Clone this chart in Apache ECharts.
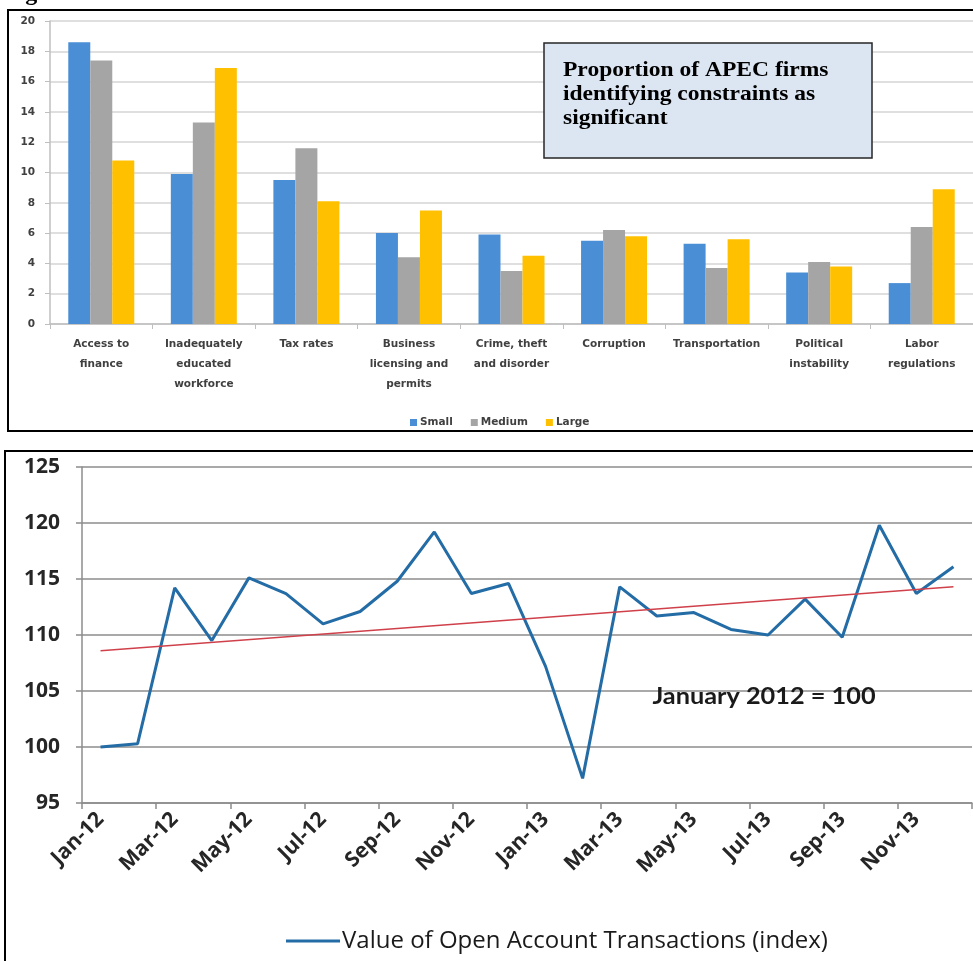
<!DOCTYPE html>
<html><head><meta charset="utf-8">
<script src="https://cdn.jsdelivr.net/npm/echarts@6/dist/echarts.min.js"></script>
<style>html,body{margin:0;padding:0;background:#fff}#c{width:973px;height:961px}</style>
</head><body><div id="c"></div>
<script>
// ---- Top chart data ----
const constraintCategories = ['Access to\nfinance', 'Inadequately\neducated\nworkforce', 'Tax rates', 'Business\nlicensing and\npermits', 'Crime, theft\nand disorder', 'Corruption', 'Transportation', 'Political\ninstability', 'Labor\nregulations'];
const smallFirms  = [18.6, 9.9, 9.5, 6.0, 5.9, 5.5, 5.3, 3.4, 2.7];
const mediumFirms = [17.4, 13.3, 11.6, 4.4, 3.5, 6.2, 3.7, 4.1, 6.4];
const largeFirms  = [10.8, 16.9, 8.1, 7.5, 4.5, 5.8, 5.6, 3.8, 8.9];
const firmSizeNames = ['Small', 'Medium', 'Large'];

// ---- Bottom chart data ----
const months = ['Jan-12','Feb-12','Mar-12','Apr-12','May-12','Jun-12','Jul-12','Aug-12','Sep-12','Oct-12','Nov-12','Dec-12',
                'Jan-13','Feb-13','Mar-13','Apr-13','May-13','Jun-13','Jul-13','Aug-13','Sep-13','Oct-13','Nov-13','Dec-13'];
const openAccountIndex = [100.0, 100.3, 114.2, 109.5, 115.1, 113.7, 111.0, 112.1, 114.8, 119.2, 113.7, 114.6,
                          107.2, 97.2, 114.3, 111.7, 112.0, 110.5, 110.0, 113.2, 109.8, 119.8, 113.7, 116.1];
const trendEnds = [108.6, 114.3]; // linear trend value at first and last month
const lineSeriesName = 'Value of Open Account Transactions (index)';

const chart = echarts.init(document.getElementById('c'), null, {renderer: 'canvas'});
const FT = '"DejaVu Sans", sans-serif';
const FB = '"Open Sans", Lato, sans-serif';

const option = {
  animation: false,
  backgroundColor: '#fff',
  grid: [
    {left: 50, right: 0, top: 21, height: 303},
    {left: 82, right: 1, top: 467, height: 336}
  ],
  xAxis: [
    {
      gridIndex: 0, type: 'category', data: constraintCategories,
      axisLine: {lineStyle: {color: '#bfbfbf', width: 1.5}},
      axisTick: {show: true, length: 5, lineStyle: {color: '#bfbfbf'}},
      axisLabel: {fontFamily: FT, fontWeight: 'bold', fontSize: 10.5, lineHeight: 20, color: '#404040', margin: 10, interval: 0}
    },
    {
      gridIndex: 1, type: 'category', data: months,
      axisLine: {lineStyle: {color: '#8c8c8c', width: 1.5}},
      axisTick: {show: true, interval: 1, length: 6, lineStyle: {color: '#8c8c8c', width: 1.5}},
      axisLabel: {fontFamily: FB, fontWeight: 'bold', fontSize: 21, color: '#262626', rotate: 45, interval: 1, margin: 13}
    }
  ],
  yAxis: [
    {
      gridIndex: 0, type: 'value', min: 0, max: 20, interval: 2,
      axisLine: {show: true, lineStyle: {color: '#bfbfbf', width: 1.5}},
      axisTick: {show: true, length: 5, lineStyle: {color: '#bfbfbf'}},
      splitLine: {lineStyle: {color: '#d4d4d4', width: 1.5}},
      axisLabel: {fontFamily: FT, fontWeight: 'bold', fontSize: 10.5, color: '#404040', margin: 15}
    },
    {
      gridIndex: 1, type: 'value', min: 95, max: 125, interval: 5,
      axisLine: {show: true, lineStyle: {color: '#8c8c8c', width: 1.5}},
      axisTick: {show: true, length: 6, lineStyle: {color: '#8c8c8c', width: 1.5}},
      splitLine: {lineStyle: {color: '#8c8c8c', width: 1.5}},
      axisLabel: {fontFamily: FB, fontWeight: 'bold', fontSize: 21, color: '#262626', margin: 22}
    }
  ],
  legend: [
    {
      data: firmSizeNames, left: 405, top: 412, itemWidth: 7, itemHeight: 7, itemGap: 18, icon: 'rect',
      textStyle: {fontFamily: FT, fontWeight: 'bold', fontSize: 10.5, color: '#404040', padding: [0, 0, 0, -2]}
    },
    {
      data: [lineSeriesName], left: 281, top: 924, itemWidth: 54, itemHeight: 3, icon: 'rect', itemGap: 0,
      textStyle: {fontFamily: FB, fontSize: 24, color: '#1a1a1a', padding: [0, 0, 0, -3]}
    }
  ],
  series: [
    {name: firmSizeNames[0], type: 'bar', xAxisIndex: 0, yAxisIndex: 0, data: smallFirms, barWidth: 22, barGap: '0%', itemStyle: {color: '#4a8fd6'}},
    {name: firmSizeNames[1], type: 'bar', xAxisIndex: 0, yAxisIndex: 0, data: mediumFirms, barWidth: 22, barGap: '0%', itemStyle: {color: '#a5a5a5'}},
    {name: firmSizeNames[2], type: 'bar', xAxisIndex: 0, yAxisIndex: 0, data: largeFirms, barWidth: 22, barGap: '0%', itemStyle: {color: '#ffc000'}},
    {
      name: lineSeriesName, type: 'line', xAxisIndex: 1, yAxisIndex: 1, data: openAccountIndex,
      showSymbol: false, symbol: 'none', lineStyle: {width: 3, color: '#246ca6'}, itemStyle: {color: '#246ca6'},
      markLine: {
        silent: true, symbol: ['none', 'none'], label: {show: false},
        lineStyle: {color: '#d0404a', width: 1.5, type: 'solid'},
        data: [[{coord: [months[0], trendEnds[0]]}, {coord: [months[months.length - 1], trendEnds[1]]}]]
      }
    }
  ],
  graphic: [
    {type: 'text', left: 4, top: -18, style: {text: 'Figure 8: Obstacles to Business Growth', font: 'bold 24px "Liberation Serif", serif', fill: '#000'}},
    {type: 'rect', shape: {x: 8, y: 10, width: 990, height: 421}, style: {fill: 'none', stroke: '#000', lineWidth: 2}, z: 10},
    {type: 'rect', shape: {x: 5, y: 451, width: 995, height: 530}, style: {fill: 'none', stroke: '#000', lineWidth: 2}, z: 10},
    {type: 'rect', shape: {x: 544, y: 43, width: 328, height: 115}, style: {fill: '#dce6f2', stroke: '#262626', lineWidth: 1.5}, z: 20},
    {type: 'text', x: 563, y: 59, scaleX: 1.12, z: 21, style: {text: 'Proportion of APEC firms\nidentifying constraints as\nsignificant', font: 'bold 21px "Liberation Serif", serif', lineHeight: 24, fill: '#000'}},
    {type: 'text', x: 764, y: 697, scaleX: 1.1, z: 21, style: {text: 'January 2012 = 100', font: 'bold 23px Lato, sans-serif', fill: '#1a1a1a', align: 'center', verticalAlign: 'middle'}}
  ]
};
chart.setOption(option);
</script>
</body></html>
